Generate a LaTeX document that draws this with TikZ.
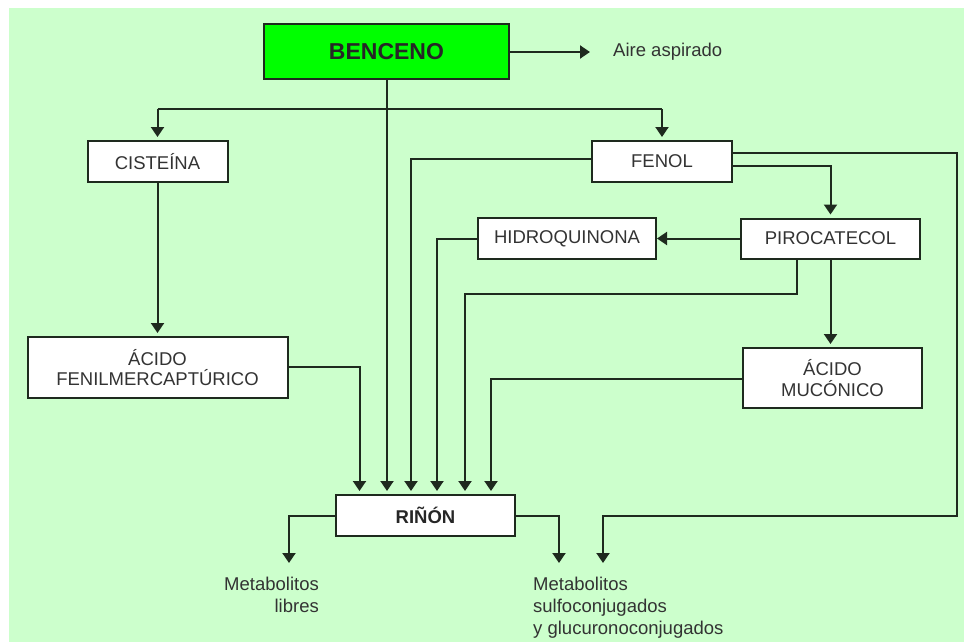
\documentclass[tikz,border=0pt]{standalone}
\usepackage{fontspec}
\setmainfont{Liberation Sans}
\usetikzlibrary{arrows.meta}
\definecolor{bg}{HTML}{CCFFCC}
\definecolor{bright}{HTML}{00FF00}
\definecolor{ln}{HTML}{1E2A1E}
\definecolor{tx}{HTML}{333333}
\tikzset{
  box/.style={draw=ln, line width=2pt, fill=white, inner sep=0pt, align=center,
    text=tx, font=\fontsize{18.5}{20.5}\selectfont},
  conn/.style={draw=ln, line width=2pt},
  tipx/.tip={Triangle[width=13pt,length=10pt]},
  arr/.style={conn, -tipx, shorten >=3pt},
  arrt/.style={conn, -tipx},
  lbl/.style={inner sep=0pt, text=tx, font=\fontsize{18.5}{22}\selectfont}
}
\begin{document}
\begin{tikzpicture}[x=1pt,y=-1pt]
\useasboundingbox (0,0) rectangle (964,642);
\fill[white] (0,0) rectangle (964,642);
\fill[bg] (9,8) rectangle (964,642);

% nodes
\node[box, fill=bright, minimum width=245pt, minimum height=55pt,
  font=\fontsize{23}{26}\selectfont\bfseries, text=black!85] (benceno) at (386.5,52) {BENCENO};
\node[lbl, anchor=west] (aire) at (613,52) {Aire aspirado};
\node[box, minimum width=140pt, minimum height=41pt] (cisteina) at (157.5,161.5) {CISTEÍNA};
\node[box, minimum width=140pt, minimum height=41pt] (fenol) at (662,161.5) {FENOL};
\node[box, minimum width=260pt, minimum height=61pt] (afm) at (157.5,367.5) {ÁCIDO\\FENILMERCAPTÚRICO};
\node[box, minimum width=178pt, minimum height=41pt] (hidro) at (567,238.5) {HIDROQUINONA};
\node[box, minimum width=179pt, minimum height=40pt] (piro) at (830.5,238.5) {PIROCATECOL};
\node[box, minimum width=179pt, minimum height=60pt] (muco) at (832.5,378) {ÁCIDO\\MUCÓNICO};
\node[box, minimum width=179pt, minimum height=41pt, font=\fontsize{18.5}{20.5}\selectfont\bfseries, text=black!85] (rinon) at (425.5,515.5) {RIÑÓN};
\node[lbl, anchor=north east, align=right] (libres) at (319,577) {Metabolitos\\libres};
\node[lbl, anchor=north west, align=left] (conj) at (533,577) {Metabolitos\\sulfoconjugados\\y glucuronoconjugados};

% free ends
\coordinate (aireend) at (590,52);
\coordinate (split) at (387,109);
\coordinate (libend) at (289,563);
\coordinate (conjend1) at (559,563);
\coordinate (conjend2) at (603,563);

% connectors
\draw[arrt] (benceno.east) -- (aireend);
\draw[arr] (benceno.south -| split) -- (rinon.north -| split);
\draw[conn] (cisteina.north |- split) -- (fenol.north |- split);
\draw[arr] (cisteina.north |- split) -- (cisteina.north);
\draw[arr] (fenol.north |- split) -- (fenol.north);
\draw[arr] ([yshift=2.5pt]fenol.west) -- ++(-180,0) coordinate (f1) -- (rinon.north -| f1);
\draw[arrt] ([yshift=8.5pt]fenol.east) -- ++(224,0) -- ++(0,363) -| (conjend2);
\draw[arr] ([yshift=-4.5pt]fenol.east) -| (piro.north);
\draw[arr] (cisteina.south) -- (afm.north);
\draw[arr] ([yshift=0.5pt]afm.east) -- ++(71,0) coordinate (a1) -- (rinon.north -| a1);
\draw[arr] (hidro.west) -- ++(-40,0) coordinate (h1) -- (rinon.north -| h1);
\draw[arrt] (piro.west) -- (hidro.east);
\draw[arr] ([xshift=-33.5pt]piro.south) -- ++(0,34) -- ++(-332,0) coordinate (p1) -- (rinon.north -| p1);
\draw[arr] (piro.south) -- (muco.north -| piro.south);
\draw[arr] ([yshift=-1pt]muco.west) -- ++(-251,0) coordinate (m1) -- (rinon.north -| m1);
\draw[arrt] (rinon.west) -| (libend);
\draw[arrt] (rinon.east) -| (conjend1);
\end{tikzpicture}
\end{document}
